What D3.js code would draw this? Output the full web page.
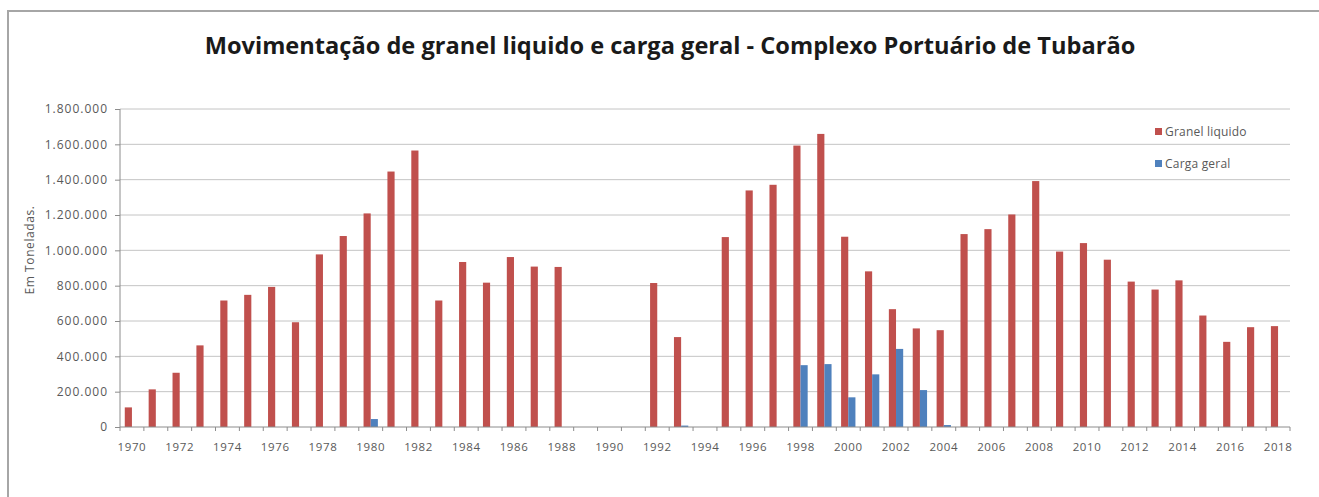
<!DOCTYPE html>
<html>
<head>
<meta charset="utf-8">
<script src="https://cdn.jsdelivr.net/npm/d3@7"></script>
<style>
  body { margin: 0; background: #fff; }
  svg { display: block; font-family: "Open Sans", "DejaVu Sans", sans-serif; }
</style>
</head>
<body>
<svg id="chart" width="1319" height="497"></svg>
<script>
var years = d3.range(1970, 2019).map(String);

var granel = [
  111000, 213000, 307000, 462000, 716000, 748000, 793000, 593000, 977000, 1081000,
  1209000, 1446000, 1565000, 716000, 934000, 817000, 962000, 908000, 906000, 0,
  0, 0, 815000, 509000, 0, 1075000, 1339000, 1371000, 1593000, 1659000,
  1077000, 881000, 667000, 558000, 548000, 1092000, 1120000, 1203000, 1392000, 993000,
  1041000, 947000, 823000, 778000, 830000, 631000, 482000, 565000, 571000
];

var carga = [
  0, 0, 0, 0, 0, 0, 0, 0, 0, 0,
  45000, 0, 0, 0, 0, 0, 0, 0, 0, 0,
  0, 0, 0, 8000, 0, 0, 0, 0, 350000, 356000,
  168000, 298000, 442000, 209000, 11000, 0, 0, 0, 0, 0,
  0, 0, 0, 0, 0, 0, 0, 0, 0
];

var seriesNames = ["Granel liquido", "Carga geral"];
var seriesColors = ["#c0504d", "#4f81bd"];
var yTicks = [0, 200000, 400000, 600000, 800000, 1000000, 1200000, 1400000, 1600000, 1800000];

var margin = {top: 109, right: 29, bottom: 70, left: 120};
var width = 1319 - margin.left - margin.right;
var height = 497 - margin.top - margin.bottom;

var ptBR = d3.formatLocale({decimal: ",", thousands: ".", grouping: [3], currency: ["R$", ""]});
var fmt = ptBR.format(",d");

var svg = d3.select("#chart");

// outer frame
svg.append("rect")
  .attr("x", 8)
  .attr("y", 11)
  .attr("width", 1320)
  .attr("height", 520)
  .attr("fill", "none")
  .attr("stroke", "#a6a6a6")
  .attr("stroke-width", 2);

svg.append("text")
  .attr("x", 670)
  .attr("y", 54)
  .attr("text-anchor", "middle")
  .style("font-family", "'Open Sans', sans-serif")
  .style("font-weight", "bold")
  .style("font-size", "23.6px")
  .attr("fill", "#1a1a1a")
  .text("Movimentação de granel liquido e carga geral - Complexo Portuário de Tubarão");

var chart = svg.append("g")
  .attr("transform", "translate(" + margin.left + "," + margin.top + ")");

var x0 = d3.scaleBand()
  .domain(years)
  .range([0, width])
  .paddingInner(0.4)
  .paddingOuter(0.2);

var x1 = d3.scaleBand()
  .domain(seriesNames)
  .range([0, x0.bandwidth()]);

var y = d3.scaleLinear()
  .domain([0, 1800000])
  .range([height, 0]);

// gridlines
chart.append("g")
  .selectAll("line")
  .data(yTicks.slice(1))
  .enter().append("line")
  .attr("x1", 0)
  .attr("x2", width)
  .attr("y1", function(d) { return y(d); })
  .attr("y2", function(d) { return y(d); })
  .attr("stroke", "#c4c4c4")
  .attr("stroke-width", 1);

// bars
var rows = years.map(function(yr, i) {
  return {year: yr, values: [granel[i], carga[i]]};
});

var groups = chart.selectAll(".year")
  .data(rows)
  .enter().append("g")
  .attr("class", "year")
  .attr("transform", function(d) { return "translate(" + x0(d.year) + ",0)"; });

groups.selectAll("rect")
  .data(function(d) {
    return d.values.map(function(v, j) { return {name: seriesNames[j], value: v, color: seriesColors[j]}; });
  })
  .enter().append("rect")
  .attr("x", function(d) { return x1(d.name); })
  .attr("width", x1.bandwidth())
  .attr("y", function(d) { return y(d.value); })
  .attr("height", function(d) { return height - y(d.value); })
  .attr("fill", function(d) { return d.color; });

// y axis
var yAxis = chart.append("g")
  .call(d3.axisLeft(y).tickValues(yTicks).tickFormat(fmt).tickSize(5).tickPadding(7));
yAxis.select(".domain").attr("stroke", "#8c8c8c").attr("d", "M0,0V" + height);
yAxis.selectAll(".tick line").attr("stroke", "#8c8c8c");
yAxis.selectAll(".tick text")
  .attr("fill", "#595959")
  .style("font-size", "12px")
  .style("font-family", "'Open Sans', sans-serif")
  .style("letter-spacing", "1px");

// x axis
var xAxis = chart.append("g")
  .attr("transform", "translate(0," + height + ")")
  .call(d3.axisBottom(x0)
    .tickValues(years.filter(function(d, i) { return i % 2 === 0; }))
    .tickSize(0)
    .tickPadding(16));
xAxis.select(".domain").attr("stroke", "#8c8c8c").attr("d", "M0,0H" + width);
xAxis.selectAll(".tick text")
  .attr("fill", "#595959")
  .style("font-size", "11.5px")
  .style("font-family", "'Open Sans', sans-serif")
  .style("letter-spacing", "0.6px");

// small ticks at category boundaries
xAxis.selectAll(".cat-tick")
  .data(years.concat(["end"]))
  .enter().append("line")
  .attr("class", "cat-tick")
  .attr("x1", function(d, i) { return i * x0.step(); })
  .attr("x2", function(d, i) { return i * x0.step(); })
  .attr("y1", 0)
  .attr("y2", 4)
  .attr("stroke", "#8c8c8c");

// y axis title
svg.append("text")
  .attr("transform", "translate(34,250) rotate(-90)")
  .attr("text-anchor", "middle")
  .attr("fill", "#595959")
  .style("font-size", "12px")
  .style("letter-spacing", "0.6px")
  .text("Em Toneladas.");

// legend
var legend = svg.append("g")
  .attr("transform", "translate(1155,128)");

var item = legend.selectAll(".item")
  .data(seriesNames)
  .enter().append("g")
  .attr("class", "item")
  .attr("transform", function(d, i) { return "translate(0," + (i * 32) + ")"; });

item.append("rect")
  .attr("width", 7)
  .attr("height", 7)
  .attr("fill", function(d, i) { return seriesColors[i]; });

item.append("text")
  .attr("x", 10)
  .attr("y", 8)
  .attr("fill", "#595959")
  .style("font-size", "12px")
  .style("letter-spacing", "0.2px")
  .text(function(d) { return d; });
</script>
</body>
</html>
